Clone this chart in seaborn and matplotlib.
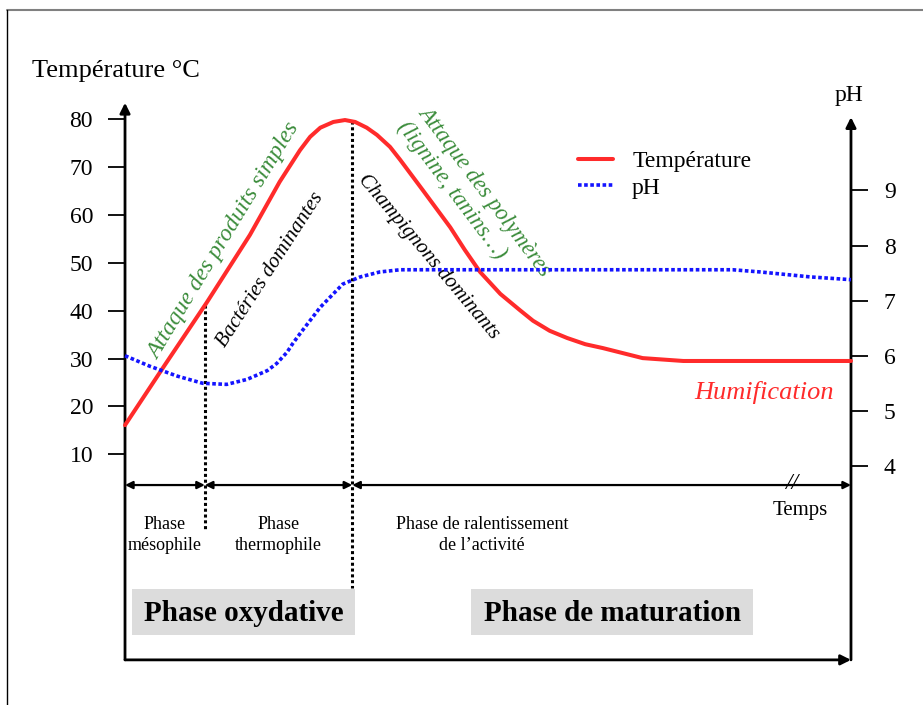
import numpy as np
import matplotlib
matplotlib.use('Agg')
import matplotlib.pyplot as plt
from matplotlib.patches import Rectangle
import seaborn as sns

# Courbes (temps en unites arbitraires : 0 -> 100)
t_temp = [0, 5.5, 11.3, 17.2, 21.3, 22.7, 24.1, 25.5, 26.9, 28.7, 30.3, 31.7, 33.3,
          34.7, 36.5, 37.9, 41.0, 44.8, 46.8, 48.9, 51.7, 54.4, 56.2, 58.5, 60.9,
          63.4, 65.8, 71.3, 76.9, 100]
temperature = [16.1, 28.7, 41.8, 55.8, 66.9, 70.2, 73.5, 76.3, 78.2, 79.4, 79.8, 79.4,
               78.2, 76.7, 74.2, 71.5, 65.2, 57.4, 52.7, 48.1, 43.5, 40.1, 37.9, 35.8,
               34.3, 33.0, 32.2, 30.1, 29.5, 29.5]

t_ph = [0, 3.4, 7.2, 10.7, 14.0, 16.8, 19.6, 20.9, 22.3, 23.1, 24.1, 26.9, 30.0,
        32.4, 35.1, 37.9, 83.7, 87.5, 94.4, 100]
ph = [6.0, 5.81, 5.63, 5.5, 5.48, 5.57, 5.73, 5.86, 6.06, 6.22, 6.4, 6.88, 7.3,
      7.43, 7.52, 7.56, 7.56, 7.52, 7.43, 7.38]

temp_ticks = [10, 20, 30, 40, 50, 60, 70, 80]
ph_ticks = [4, 5, 6, 7, 8, 9]

# limites des phases sur l'axe du temps
phase_bounds = [0, 11.0, 31.3, 100]
phase_labels = ['Phase\nmésophile', 'Phase\nthermophile',
                'Phase de ralentissement\nde l\u2019activité']
grandes_phases = ['Phase oxydative', 'Phase de maturation']

RED = '#ff2b2b'
BLUE = '#1414ff'
GREEN = '#3b8c3b'

sns.set_style('white', rc={'text.color': 'black', 'ytick.color': 'black',
                           'xtick.color': 'black', 'axes.grid': False})
plt.rcParams['font.family'] = ['Liberation Serif', 'DejaVu Serif']

fig = plt.figure(figsize=(9.23, 7.05), dpi=100)
ax = fig.add_axes([0, 0, 1, 1])
ax.set_xlim(-17.22, 109.92)
ax.set_ylim(-42.32, 104.86)
ax2 = ax.twinx()
ax2.set_ylim(-0.338, 12.455)

for a in (ax, ax2):
    for s in a.spines.values():
        s.set_visible(False)
    a.set_xticks([])
ax.spines['left'].set_position(('data', 0))
ax2.spines['right'].set_position(('data', 100))

ax.set_yticks(temp_ticks)
ax.tick_params(axis='y', left=True, right=False, direction='out', length=12.2,
               width=1.3, pad=10.8, labelsize=17)
ax2.set_yticks(ph_ticks)
ax2.tick_params(axis='y', left=False, right=True, direction='out', length=12.2,
                width=1.3, pad=11.5, labelsize=17)

# axes avec fleches
big = dict(arrowstyle='-|>', color='black', lw=2.0, mutation_scale=15,
           shrinkA=0, shrinkB=0)
ax.annotate('', xy=(0, 83.4), xytext=(0, -32.9), arrowprops=big)
ax.annotate('', xy=(100, 80.4), xytext=(100, -32.9), arrowprops=big)
ax.annotate('', xy=(100, -32.9), xytext=(0, -32.9), arrowprops=big)

# axe du temps decoupe en phases
small = dict(arrowstyle='<|-|>', color='black', lw=1.6, mutation_scale=11,
             shrinkA=0, shrinkB=0)
for a0, a1 in zip(phase_bounds[:-1], phase_bounds[1:]):
    ax.annotate('', xy=(a1, 3.6), xytext=(a0, 3.6), arrowprops=small)

# courbes
sns.lineplot(x=t_temp, y=temperature, ax=ax, color=RED, lw=2.9,
             label='Température', legend=False, zorder=4)
line_t = ax.lines[-1]
sns.lineplot(x=t_ph, y=ph, ax=ax2, color=BLUE, lw=2.6, linestyle=(0, (1, 0.7)),
             label='pH', legend=False, zorder=4)
line_p = ax2.lines[-1]

# limites verticales en pointilles
for b, bottom in zip(phase_bounds[1:3], [-5.8, -17.9]):
    top = np.interp(b, t_temp, temperature)
    ax.plot([b, b], [top, bottom], color='black', lw=2.2, ls=(0, (1, 0.9)), zorder=3)

ax.legend(handles=[line_t, line_p], labels=['Température', 'pH'],
          loc='upper left', bbox_to_anchor=(0.626, 0.786),
          bbox_transform=fig.transFigure, frameon=False, fontsize=17,
          handlelength=1.5, handletextpad=0.8, labelspacing=0.2,
          borderpad=0, borderaxespad=0)

# titres des axes
ax.text(-12.8, 90.0, 'Température °C', fontsize=19, ha='left', va='center')
ax.text(99.7, 84.9, 'pH', fontsize=17, ha='center', va='center')

# annotations
ax.text(13.6, 54.6, 'Attaque des produits simples', color=GREEN, fontsize=17,
        style='italic', rotation=58.7, rotation_mode='anchor', ha='center', va='center')
ax.text(20.0, 48.6, 'Bactéries dominantes', fontsize=15, style='italic',
        rotation=57, rotation_mode='anchor', ha='center', va='center')
ax.text(41.8, 51.2, 'Champignons dominants', fontsize=15, style='italic',
        rotation=-50, rotation_mode='anchor', ha='center', va='center')
ax.text(48.1, 63.4, 'Attaque des polymères\n(lignine, tanins\u2026)', color=GREEN,
        fontsize=16.5, style='italic', rotation=-53, rotation_mode='anchor',
        ha='center', va='center', multialignment='left', linespacing=1.3)
ax.text(88.0, 23.0, 'Humification', color=RED, fontsize=19, style='italic',
        ha='center', va='center')

# noms des phases
for a0, a1, lab in zip(phase_bounds[:-1], phase_bounds[1:], phase_labels):
    xc = (a0 + a1) / 2 if a1 < 100 else 49.2
    ax.text(xc, -6.9, lab, fontsize=13, ha='center', va='center', linespacing=1.3)
ax.text(93.0, -1.8, 'Temps', fontsize=15, ha='center', va='center')
ax.text(91.9, 3.9, '//', fontsize=17, style='italic', ha='center', va='center')

# grandes phases
for (x0, x1), lab in zip([(0.96, 31.7), (47.7, 86.5)], grandes_phases):
    ax.add_patch(Rectangle((x0, -27.7), x1 - x0, 9.6, color='#dcdcdc', lw=0, zorder=1))
    ax.text((x0 + x1) / 2, -23.3, lab, fontsize=21, fontweight='bold',
            ha='center', va='center', zorder=2)

# cadre
ax.plot([-16.25, 109.92], [102.8, 102.8], color='#808080', lw=1.5)
ax.plot([-16.25, -16.25], [102.8, -42.32], color='black', lw=1.0)

fig.savefig('out.png', dpi=100)
